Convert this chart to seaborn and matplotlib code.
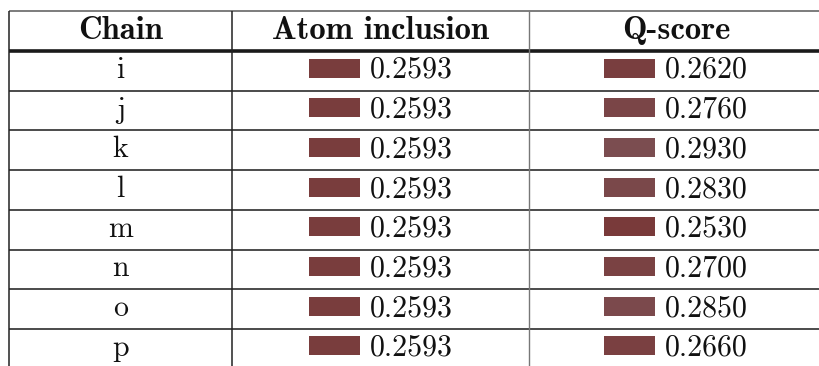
import matplotlib
matplotlib.use('Agg')
import matplotlib.pyplot as plt
from matplotlib.colors import LinearSegmentedColormap, Normalize
import seaborn as sns

# Table data
headers = ["Chain", "Atom inclusion", "Q-score"]
chains = ["i", "j", "k", "l", "m", "n", "o", "p"]
atom_inclusion = [0.2593, 0.2593, 0.2593, 0.2593, 0.2593, 0.2593, 0.2593, 0.2593]
q_score = [0.2620, 0.2760, 0.2930, 0.2830, 0.2530, 0.2700, 0.2850, 0.2660]

sns.set_theme(style="white")
plt.rcParams["font.family"] = ["cmr10", "DejaVu Serif"]

# layout in pixel units
col_edges = [9, 232, 529, 823]
top = 11
head_h = 40
row_h = 39.7
bar_w = 51
bar_h = 19
gap = 10
text_w = 83
fs = 21.5

cmap = LinearSegmentedColormap.from_list("cell", ["#793a3a", "#7b4d50"])
norm = Normalize(vmin=0.253, vmax=0.293)

fig = plt.figure(figsize=(8.19, 3.66), dpi=100)
ax = fig.add_axes([0, 0, 1, 1])
ax.set_xlim(0, 819)
ax.set_ylim(366, 0)
ax.axis("off")

# header
for c, h in enumerate(headers):
    cx = (col_edges[c] + col_edges[c + 1]) / 2
    ax.text(cx, top + 28, h, ha="center", va="baseline", fontsize=23.5,
            fontfamily="cmb10", color="#111111")

body_top = top + head_h
n = len(chains)
row_tops = [body_top + i * row_h for i in range(n)]

# chain names
cx0 = (col_edges[0] + col_edges[1]) / 2
for rt, ch in zip(row_tops, chains):
    ax.text(cx0, rt + 27, ch, ha="center", va="baseline", fontsize=fs, color="#111111")

# value cells: swatch + number
for c, vals in ((1, atom_inclusion), (2, q_score)):
    cx = (col_edges[c] + col_edges[c + 1]) / 2
    left = cx - (bar_w + gap + text_w) / 2
    ax.barh([rt + 17 for rt in row_tops], [bar_w] * n, left=left, height=bar_h,
            color=[cmap(norm(v)) for v in vals], edgecolor="none")
    for rt, v in zip(row_tops, vals):
        ax.text(left + bar_w + gap, rt + 27, f"{v:.4f}", ha="left", va="baseline",
                fontsize=fs, color="#111111")

# grid lines
ax.hlines(top, col_edges[0], 819, color="#666666", lw=1.2)
ax.hlines(body_top, col_edges[0], 819, color="#1a1a1a", lw=2.6)
ax.hlines(row_tops[1:], col_edges[0], 819, color="#1a1a1a", lw=1.1)
ax.vlines(col_edges[0], top, 366, color="#222222", lw=1.1)
ax.vlines(col_edges[1], top, 366, color="#222222", lw=1.1)
ax.vlines(col_edges[2], top, 366, color="#777777", lw=1.0)

fig.savefig("out.png", dpi=100)
